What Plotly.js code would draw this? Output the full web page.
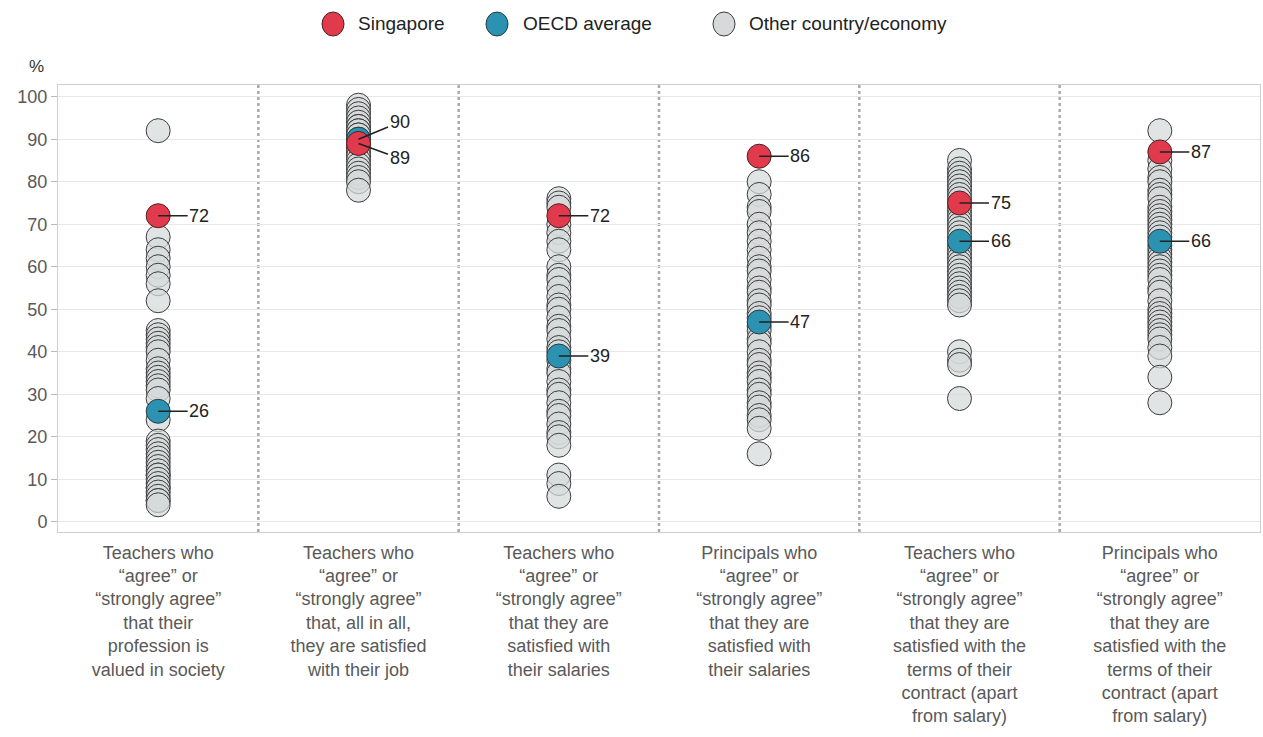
<!DOCTYPE html>
<html>
<head>
<meta charset="utf-8">
<script src="https://cdn.plot.ly/plotly-3.0.1.min.js"></script>
<style>html,body{margin:0;padding:0;background:#fff;}#chart{width:1263px;height:737px;}</style>
</head>
<body>
<div id="chart"></div>
<script>
var categories = [
  "Teachers who<br>“agree” or<br>“strongly agree”<br>that their<br>profession is<br>valued in society",
  "Teachers who<br>“agree” or<br>“strongly agree”<br>that, all in all,<br>they are satisfied<br>with their job",
  "Teachers who<br>“agree” or<br>“strongly agree”<br>that they are<br>satisfied with<br>their salaries",
  "Principals who<br>“agree” or<br>“strongly agree”<br>that they are<br>satisfied with<br>their salaries",
  "Teachers who<br>“agree” or<br>“strongly agree”<br>that they are<br>satisfied with the<br>terms of their<br>contract (apart<br>from salary)",
  "Principals who<br>“agree” or<br>“strongly agree”<br>that they are<br>satisfied with the<br>terms of their<br>contract (apart<br>from salary)"
];
var seriesNames = ["Singapore", "OECD average", "Other country/economy"];
var singapore = [72, 89, 72, 86, 75, 87];
var oecd = [26, 90, 39, 47, 66, 66];
var others0 = [92, 67, 64, 62, 60, 58, 56, 52, 45, 44, 43, 42, 41, 40, 38, 36, 35, 34, 33, 32, 31, 29, 24, 19, 18, 17, 16, 15, 14, 13, 12, 11, 11, 10, 9, 8, 8, 7, 6, 5, 5, 4];
var others1 = [98, 97, 96, 95, 94, 93, 93, 92, 92, 91, 91, 90, 89, 88, 88, 87, 86, 86, 85, 84, 83, 82, 81, 80, 78];
var others2 = [76, 75, 74, 70, 68, 66, 64, 60, 58, 57, 55, 53, 51, 50, 48, 46, 45, 43, 41, 40, 38, 36, 35, 33, 31, 30, 28, 26, 25, 23, 21, 20, 18, 11, 9, 6];
var others3 = [80, 77, 74, 73, 70, 68, 66, 64, 62, 60, 59, 57, 55, 54, 52, 51, 49, 48, 46, 45, 43, 42, 40, 38, 37, 35, 34, 33, 31, 30, 28, 27, 25, 24, 22, 16];
var others4 = [85, 83, 82, 81, 80, 79, 78, 77, 76, 74, 73, 72, 71, 70, 69, 68, 67, 65, 64, 63, 62, 61, 60, 59, 58, 57, 56, 55, 54, 53, 52, 51, 40, 38, 37, 29];
var others5 = [92, 85, 83, 81, 80, 78, 77, 76, 74, 73, 72, 71, 70, 69, 68, 67, 65, 64, 63, 62, 61, 60, 59, 58, 57, 55, 54, 52, 50, 49, 48, 47, 46, 45, 44, 43, 41, 39, 34, 28];
var yTicks = [0, 10, 20, 30, 40, 50, 60, 70, 80, 90, 100];

var othersAll = [others0, others1, others2, others3, others4, others5];
var ox = [], oy = [];
othersAll.forEach(function (arr, i) { arr.forEach(function (v) { ox.push(i); oy.push(v); }); });
var idx = categories.map(function (c, i) { return i; });

var FONT = "Liberation Sans, Arial, sans-serif";
var COL_OTHER = "rgba(214,218,218,0.72)", COL_OECD = "#2b92b2", COL_SGP = "#e13a4c";
var traces = [
  {type: "scatter", mode: "markers", name: seriesNames[2], x: ox, y: oy, showlegend: false,
   marker: {size: 24, color: COL_OTHER, line: {color: "#3c3c3c", width: 1}}},
  {type: "scatter", mode: "markers", name: seriesNames[1], x: idx, y: oecd, showlegend: false,
   marker: {size: 24, color: COL_OECD, line: {color: "#2a3a40", width: 1}}},
  {type: "scatter", mode: "markers", name: seriesNames[0], x: idx, y: singapore, showlegend: false,
   marker: {size: 24, color: COL_SGP, line: {color: "#4a2226", width: 1}}}
];

// plot area geometry (pixels) for legend placement in paper coords
var L = 58, T = 85, W = 1263 - 58 - 3, H = 737 - 85 - 205;
function px(x) { return (x - L) / W; }
function py(y) { return (T + H - y) / H; }

var annotations = [];
function lab(i, v, ay) {
  annotations.push({x: i, y: v, xref: "x", yref: "y", text: String(v), showarrow: true,
    arrowhead: 0, arrowwidth: 1.6, arrowcolor: "#222", ax: 41, ay: ay, standoff: 0,
    borderpad: 1, font: {family: FONT, size: 18, color: "#222"}});
}
for (var i = 0; i < categories.length; i++) {
  if (i === 1) { lab(i, oecd[i], -17); lab(i, singapore[i], 15); }
  else { lab(i, singapore[i], 0); lab(i, oecd[i], 0); }
}
annotations.push({xref: "paper", yref: "paper", x: px(36), y: py(66), xanchor: "center", yanchor: "middle",
  text: "%", showarrow: false, font: {family: FONT, size: 17, color: "#333"}});

var shapes = [];
for (var k = 0; k < categories.length - 1; k++) {
  shapes.push({type: "line", xref: "x", yref: "paper", x0: k + 0.5, x1: k + 0.5, y0: 0, y1: 1,
    line: {color: "#aaaaaa", width: 2.5, dash: "dot"}, layer: "below"});
}

// custom legend
var legMarkX = [333, 497, 724], legTextX = [356, 521, 747], legY = 24;
var legCols = [COL_SGP, COL_OECD, "#d6dada"], legLines = ["#4a2226", "#2a3a40", "#3c3c3c"];
for (var j = 0; j < 3; j++) {
  shapes.push({type: "circle", xref: "paper", yref: "paper", xsizemode: "pixel", ysizemode: "pixel",
    xanchor: px(legMarkX[j]), yanchor: py(legY), x0: -11, x1: 11, y0: -12, y1: 12,
    fillcolor: legCols[j], line: {color: legLines[j], width: 1}});
  annotations.push({xref: "paper", yref: "paper", x: px(legTextX[j]), y: py(legY), xanchor: "left",
    yanchor: "middle", text: seriesNames[j], showarrow: false,
    font: {family: FONT, size: 19, color: "#222"}});
}

var layout = {
  width: 1263, height: 737,
  margin: {l: 58, r: 3, t: 85, b: 205},
  paper_bgcolor: "#fff", plot_bgcolor: "#fff",
  font: {family: FONT, size: 18, color: "#555"},
  showlegend: false,
  xaxis: {range: [-0.5, 5.5], tickmode: "array", tickvals: idx, ticktext: categories,
    showgrid: false, zeroline: false, showline: true, mirror: true, linecolor: "#cfcfcf",
    ticks: "", ticklabelstandoff: 4, tickfont: {family: FONT, size: 18, color: "#595959"}},
  yaxis: {range: [-2.4, 102.75], tickmode: "array", tickvals: yTicks, showgrid: true,
    gridcolor: "#e8e8e8", zeroline: false, showline: true, mirror: true, linecolor: "#cfcfcf",
    ticks: "outside", ticklen: 6, tickcolor: "#bbb",
    tickfont: {family: FONT, size: 18, color: "#595959"}},
  annotations: annotations,
  shapes: shapes
};
Plotly.newPlot("chart", traces, layout, {displayModeBar: false, staticPlot: true});
</script>
</body>
</html>
